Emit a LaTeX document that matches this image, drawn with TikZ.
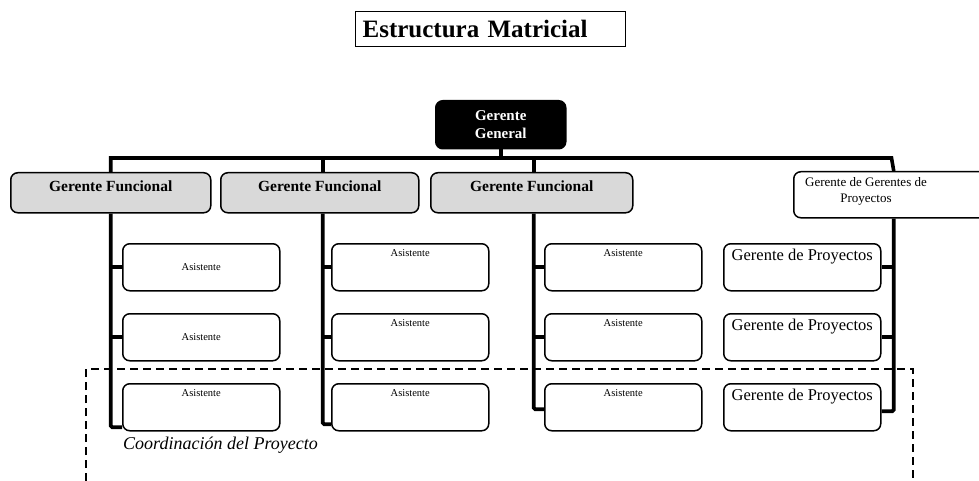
\documentclass[tikz,border=0pt]{standalone}
\usepackage{fontspec}
\setmainfont{Liberation Serif}
\begin{document}
\begin{tikzpicture}[x=1pt,y=-1pt,
  fs/.style n args={2}{font=\fontsize{#1}{#2}\selectfont},
  box/.style={draw=black, line width=1.5pt, rounded corners=7pt, anchor=north west, inner sep=0pt},
  funcbox/.style={box, fill=black!15},
  asbox/.style={box, fill=white, minimum width=157pt, minimum height=47pt},
  conn/.style={draw=black, line width=3.6pt, rounded corners=1.5pt},
  small/.style={fs={10.5}{12}, inner sep=0pt},
  frame/.style={draw=black, line width=1.8pt, dash pattern=on 8pt off 5pt}
]
\useasboundingbox (0,0) rectangle (979,481);

% title
\node[draw=black, line width=1.2pt, anchor=north west, minimum height=35pt,
      text width=256pt, align=left, inner xsep=7pt, inner ysep=0pt,
      font=\bfseries\fontsize{25}{28}\selectfont] (title) at (355,11) {Estructura Matricial};

% top manager
\node[box, fill=black, minimum width=130pt, minimum height=48pt] (gg) at (435,100) {};
\node[text=white, align=center, inner sep=0pt, font=\bfseries\fontsize{15}{18}\selectfont] (ggt) at (gg.center) {Gerente\\General};

% functional managers
\node[funcbox, minimum width=200pt, minimum height=40pt] (gf1) at (10,172) {};
\node[funcbox, minimum width=198pt, minimum height=40pt] (gf2) at (220,172) {};
\node[funcbox, minimum width=202pt, minimum height=40pt] (gf3) at (430,172) {};
\foreach \i in {1,2,3}{
  \node[inner sep=0pt, font=\bfseries\fontsize{15.5}{18}\selectfont] (gft\i) at ([yshift=-14pt]gf\i.north) {Gerente Funcional};
}

% manager of project managers
\node[box, fill=white, minimum width=200pt, minimum height=46pt] (ggp) at (793,171) {};
\node[align=center, inner sep=0pt, fs={13}{16}] (ggpt) at (866,191) {Gerente de Gerentes de\\Proyectos};

% assistants and project managers
\foreach \c/\x in {1/122,2/331,3/544,4/723}{
  \foreach \r/\y in {1/243,2/313,3/383}{
    \node[asbox] (a\c\r) at (\x,\y) {};
  }
}
\node[small] (t11) at (a11.center) {Asistente};
\node[small] (t12) at (a12.center) {Asistente};
\node[small] (t13) at ([yshift=-10pt]a13.north) {Asistente};
\foreach \c in {2,3}{
  \foreach \r in {1,2,3}{
    \node[small] (t\c\r) at ([yshift=-10pt]a\c\r.north) {Asistente};
  }
}
\foreach \r in {1,2,3}{
  \node[inner sep=0pt, fs={16.5}{18}] (t4\r) at ([yshift=-14pt]a4\r.north) {Gerente de Proyectos};
}

% main bar
\coordinate (barL) at (110,158);
\coordinate (barR) at (891.5,158);
\draw[conn] (gg.south) -- (gg.south |- barL);
\draw[conn, rounded corners=0pt] (gf1.north) -- (gf1.north |- barL) -- (barR) -- (ggp.north);
\draw[conn] ([xshift=3pt]gf2.north |- barL) -- ([xshift=3pt]gf2.north);
\draw[conn] ([xshift=2pt]gf3.north |- barL) -- ([xshift=2pt]gf3.north);

% column spines
\draw[conn] (gf1.south) |- ([yshift=-20pt]a13.west);
\draw[conn] (gf1.south |- a11.west) -- (a11.west);
\draw[conn] (gf1.south |- a12.west) -- (a12.west);

\draw[conn] ([xshift=3pt]gf2.south) |- ([yshift=-17pt]a23.west);
\draw[conn] ([xshift=3pt]gf2.south |- a21.west) -- (a21.west);
\draw[conn] ([xshift=3pt]gf2.south |- a22.west) -- (a22.west);

\draw[conn] ([xshift=2pt]gf3.south) |- ([yshift=-2pt]a33.west);
\draw[conn] ([xshift=2pt]gf3.south |- a31.west) -- (a31.west);
\draw[conn] ([xshift=2pt]gf3.south |- a32.west) -- (a32.west);

\draw[conn] (ggp.south) |- ([yshift=-4pt]a43.east);
\draw[conn] (ggp.south |- a41.east) -- (a41.east);
\draw[conn] (ggp.south |- a42.east) -- (a42.east);

% project coordination frame
\coordinate (fbl) at (86,481);
\coordinate (ftl) at (86,369);
\coordinate (ftr) at (913,369);
\coordinate (fbr) at (913,481);
\draw[frame] (fbl) -- (ftl) -- (ftr) -- (fbr);
\node[anchor=west, inner sep=0pt, font=\itshape\fontsize{18}{20}\selectfont] (coord) at (123,445) {Coordinación del Proyecto};
\end{tikzpicture}
\end{document}
